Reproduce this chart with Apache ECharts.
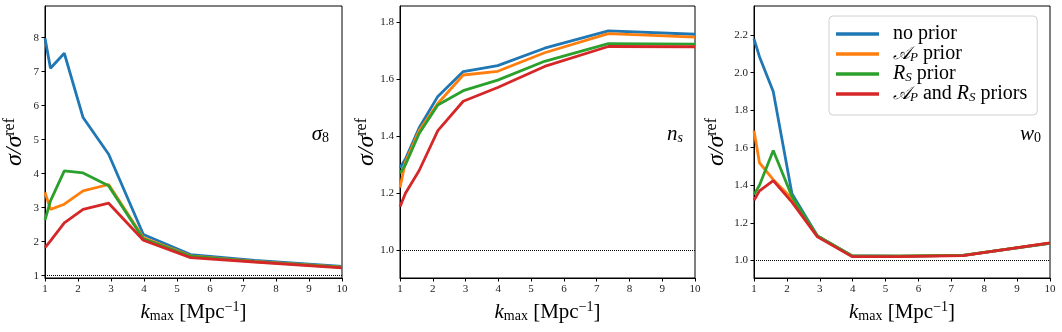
<!DOCTYPE html>
<html>
<head>
<meta charset="utf-8">
<script src="https://cdn.jsdelivr.net/npm/echarts@6/dist/echarts.min.js"></script>
<style>
  html, body { margin: 0; padding: 0; background: #fff; }
  #main { width: 1062px; height: 332px; }
</style>
</head>
<body>
<div id="main"></div>
<script>
// k_max values (log spaced)
var kmax = [1, 1.166, 1.585, 2.154, 2.929, 3.981, 5.412, 7.356, 10];

// sigma_8
var s8NoPrior = [7.98, 7.10, 7.54, 5.65, 4.57, 2.21, 1.62, 1.45, 1.27];
var s8ApPrior = [3.45, 2.95, 3.10, 3.49, 3.68, 2.11, 1.58, 1.42, 1.25];
var s8RsPrior = [2.63, 3.20, 4.08, 4.02, 3.64, 2.08, 1.57, 1.41, 1.24];
var s8Both    = [1.82, 2.02, 2.55, 2.95, 3.13, 2.04, 1.53, 1.40, 1.23];

// n_s
var nsNoPrior = [1.29, 1.32, 1.43, 1.54, 1.627, 1.648, 1.709, 1.770, 1.758];
var nsApPrior = [1.22, 1.31, 1.42, 1.515, 1.615, 1.628, 1.693, 1.760, 1.748];
var nsRsPrior = [1.27, 1.30, 1.41, 1.510, 1.560, 1.597, 1.663, 1.725, 1.723];
var nsBoth    = [1.153, 1.20, 1.28, 1.420, 1.523, 1.571, 1.645, 1.715, 1.714];

// w_0
var w0NoPrior = [2.18, 2.085, 1.90, 1.355, 1.13, 1.025, 1.023, 1.027, 1.090];
var w0ApPrior = [1.69, 1.52, 1.43, 1.33, 1.13, 1.023, 1.022, 1.027, 1.092];
var w0RsPrior = [1.35, 1.40, 1.585, 1.34, 1.13, 1.023, 1.022, 1.027, 1.092];
var w0Both    = [1.32, 1.37, 1.425, 1.31, 1.125, 1.020, 1.020, 1.025, 1.093];

// tick labels
var s8Ticks = [1, 2, 3, 4, 5, 6, 7, 8];
var nsTicks = [1.0, 1.2, 1.4, 1.6, 1.8];
var w0Ticks = [1.0, 1.2, 1.4, 1.6, 1.8, 2.0, 2.2];

var names = ['no prior', 'AP prior', 'RS prior', 'AP and RS priors'];
var colors = ['#1f77b4', '#ff7f0e', '#2ca02c', '#d62728'];

var serif = "'Liberation Serif', 'DejaVu Serif', serif";

function pairs(ys) {
  return ys.map(function (y, i) { return [kmax[i], y]; });
}

var grids = [
  { left: 45, top: 6, width: 297, height: 272 },
  { left: 400, top: 6, width: 295, height: 272 },
  { left: 754, top: 6, width: 296, height: 272 }
];
grids.forEach(function (g) {
  g.show = true;
  g.borderColor = '#000';
  g.borderWidth = 1;
  g.backgroundColor = '#fff';
  g.containLabel = false;
  g.outerBoundsMode = 'none';
});

var xNameRich = {
  i: { fontFamily: serif, fontStyle: 'italic', fontSize: 21, color: '#000' },
  r: { fontFamily: serif, fontSize: 21, color: '#000' },
  s: { fontFamily: serif, fontSize: 14, color: '#000', padding: [9, 0, 0, 0] },
  p: { fontFamily: serif, fontSize: 14, color: '#000', padding: [0, 0, 10, 0] }
};
var yNameRich = {
  i: { fontFamily: serif, fontStyle: 'italic', fontSize: 24, color: '#000' },
  p: { fontFamily: serif, fontSize: 16, color: '#000', padding: [0, 0, 10, 0] }
};

function makeX(idx) {
  return {
    type: 'value', gridIndex: idx, min: 1, max: 10, interval: 1,
    name: '{i|k}{s|max}{r| [Mpc}{p|−1}{r|]}',
    nameLocation: 'middle', nameGap: 22, nameMoveOverlap: false,
    nameTextStyle: { rich: xNameRich },
    axisLine: { show: true, lineStyle: { color: '#000', width: 1 } },
    axisTick: { show: true, inside: false, length: 3.5, lineStyle: { color: '#000' } },
    axisLabel: { fontFamily: serif, fontSize: 11, color: '#222', margin: 6 },
    splitLine: { show: false }
  };
}

function makeY(idx, min, max, ticks, digits, gap) {
  return {
    type: 'value', gridIndex: idx, min: min, max: max,
    name: '{i|σ/σ}{p|ref}',
    nameLocation: 'middle', nameRotate: 90, nameGap: gap, nameMoveOverlap: false,
    nameTextStyle: { rich: yNameRich },
    axisLine: { show: true, lineStyle: { color: '#000', width: 1 } },
    axisTick: { show: true, length: 3.5, customValues: ticks, lineStyle: { color: '#000' } },
    axisLabel: {
      fontFamily: serif, fontSize: 11, color: '#222', margin: 6,
      customValues: ticks,
      formatter: function (v) { return v.toFixed(digits); }
    },
    splitLine: { show: false }
  };
}

function makeSeries(idx, list) {
  return list.map(function (ys, k) {
    var s = {
      name: names[k],
      type: 'line',
      xAxisIndex: idx, yAxisIndex: idx,
      data: pairs(ys),
      color: colors[k],
      showSymbol: false,
      symbol: 'none',
      lineStyle: { width: 2.8, color: colors[k] },
      z: 3 + k,
      animation: false
    };
    if (k === 0) {
      // reference level sigma/sigma_ref = 1
      s.markLine = {
        silent: true, symbol: 'none',
        label: { show: false },
        lineStyle: { type: 'dotted', color: '#000', width: 1 },
        data: [{ yAxis: 1 }],
        animation: false
      };
    }
    return s;
  });
}

var series = []
  .concat(makeSeries(0, [s8NoPrior, s8ApPrior, s8RsPrior, s8Both]))
  .concat(makeSeries(1, [nsNoPrior, nsApPrior, nsRsPrior, nsBoth]))
  .concat(makeSeries(2, [w0NoPrior, w0ApPrior, w0RsPrior, w0Both]));

var legendLabels = {
  'no prior': '{r|no prior}',
  'AP prior': '{c|𝒜}{s|P}{r| prior}',
  'RS prior': '{i|R}{s|S}{r| prior}',
  'AP and RS priors': '{c|𝒜}{s|P}{r| and }{i|R}{s|S}{r| priors}'
};

var legendRich = {
  r: { fontFamily: serif, fontSize: 20, color: '#000', lineHeight: 21 },
  i: { fontFamily: serif, fontStyle: 'italic', fontSize: 20, color: '#000', lineHeight: 21 },
  c: { fontFamily: "'DejaVu Sans', 'Noto Sans', serif", fontStyle: 'italic', fontSize: 18, color: '#000', lineHeight: 21 },
  s: { fontFamily: serif, fontStyle: 'italic', fontSize: 13, color: '#000', lineHeight: 21, padding: [7, 0, 0, 0] }
};

var labelRich = {
  i: { fontFamily: serif, fontStyle: 'italic', fontSize: 21, fill: '#000' },
  s: { fontFamily: serif, fontSize: 14, fill: '#000', padding: [8, 0, 0, 0] },
  si: { fontFamily: serif, fontStyle: 'italic', fontSize: 14, fill: '#000', padding: [8, 0, 0, 0] }
};

var chart = echarts.init(document.getElementById('main'), null, { renderer: 'canvas' });
chart.setOption({
  backgroundColor: '#fff',
  animation: false,
  grid: grids,
  xAxis: [makeX(0), makeX(1), makeX(2)],
  yAxis: [
    makeY(0, 0.93, 8.93, s8Ticks, 0, 17),
    makeY(1, 0.903, 1.857, nsTicks, 1, 20),
    makeY(2, 0.906, 2.355, w0Ticks, 1, 24)
  ],
  legend: {
    data: names,
    orient: 'vertical',
    left: 829, top: 16,
    padding: [8, 10, 11, 7],
    itemGap: 0,
    itemWidth: 43, itemHeight: 3.5,
    icon: 'rect',
    borderColor: '#d0d0d0', borderWidth: 1, borderRadius: 4,
    backgroundColor: 'rgba(255,255,255,0.9)',
    formatter: function (n) { return legendLabels[n]; },
    textStyle: { rich: legendRich, padding: [0, 0, 0, 9] },
    selectedMode: false
  },
  graphic: [
    { type: 'text', right: 1062 - 329, top: 124, z: 100,
      style: { text: '{i|σ}{s|8}', rich: labelRich } },
    { type: 'text', right: 1062 - 683, top: 124, z: 100,
      style: { text: '{i|n}{si|s}', rich: labelRich } },
    { type: 'text', right: 1062 - 1041, top: 124, z: 100,
      style: { text: '{i|w}{s|0}', rich: labelRich } }
  ],
  series: series
});
</script>
</body>
</html>
